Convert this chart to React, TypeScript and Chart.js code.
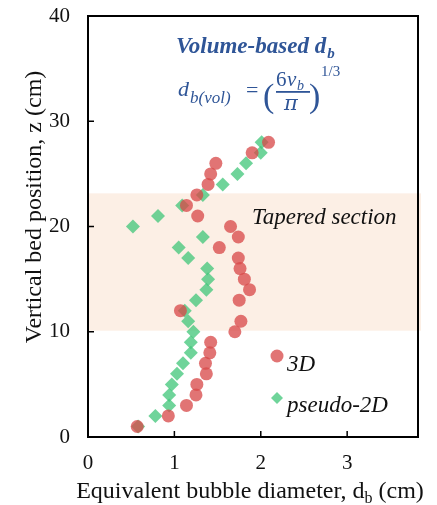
import React, { useEffect, useRef } from "react";
import { Chart, registerables } from "chart.js";

Chart.register(...registerables);

// ---- data ----
const zLevels3D = [1, 2, 3, 4, 5, 6, 7, 8, 9, 10, 11, 12, 13, 14, 15, 16, 17, 18, 19, 20, 21, 22, 23, 24, 25, 26, 27, 28];
const db3D = [0.57, 0.93, 1.14, 1.25, 1.26, 1.37, 1.36, 1.41, 1.42, 1.70, 1.77, 1.07, 1.75, 1.87, 1.81, 1.76, 1.74, 1.52, 1.74, 1.65, 1.27, 1.14, 1.26, 1.39, 1.42, 1.48, 1.90, 2.09];
const zLevels2D = [1, 2, 3, 4, 5, 6, 7, 8, 9, 10, 11, 12, 13, 14, 15, 16, 17, 18, 19, 20, 21, 22, 23, 24, 25, 26, 27, 28];
const db2D = [0.58, 0.78, 0.94, 0.94, 0.97, 1.03, 1.10, 1.19, 1.19, 1.22, 1.16, 1.12, 1.25, 1.37, 1.39, 1.38, 1.16, 1.05, 1.33, 0.52, 0.81, 1.09, 1.33, 1.56, 1.73, 1.83, 2.00, 2.01];
const xTickValues = [0, 1, 2, 3];
const yTickValues = [0, 10, 20, 30, 40];
const taperedRange = [10.1, 23.15];
const seriesNames = ["3D", "pseudo-2D"];
const xTitleMain = "Equivalent bubble diameter, d";
const xTitleSub = "b";
const xTitleEnd = " (cm)";
const yTitle = "Vertical bed position, z (cm)";
const bandLabel = "Tapered section";

const RED = "rgba(216, 72, 72, 0.76)";
const GREEN = "rgba(66, 198, 122, 0.76)";
const BLUE = "#2F5597";
const SERIF = "'Liberation Serif', 'Times New Roman', serif";

const overlayPlugin = {
  id: "overlay",
  beforeDatasetsDraw(chart: any) {
    const { ctx, chartArea, scales } = chart;
    const y = scales.y;
    const top = y.getPixelForValue(taperedRange[1]);
    const bot = y.getPixelForValue(taperedRange[0]);
    ctx.save();
    ctx.fillStyle = "#FCEFE5";
    ctx.fillRect(chartArea.left, top, chartArea.right - chartArea.left + 3, bot - top);
    ctx.restore();
  },
  afterDatasetsDraw(chart: any) {
    const { ctx, chartArea, scales } = chart;
    const { left, right, top, bottom } = chartArea;
    ctx.save();
    // border box
    ctx.strokeStyle = "#000";
    ctx.lineWidth = 2;
    ctx.strokeRect(left, top, right - left, bottom - top);
    // inward ticks
    ctx.lineWidth = 1.5;
    ctx.beginPath();
    xTickValues.forEach((v) => {
      if (v === 0) return;
      const px = scales.x.getPixelForValue(v);
      ctx.moveTo(px, bottom);
      ctx.lineTo(px, bottom - 6);
    });
    yTickValues.forEach((v) => {
      if (v === 0 || v === 40) return;
      const py = scales.y.getPixelForValue(v);
      ctx.moveTo(left, py);
      ctx.lineTo(left + 6, py);
    });
    ctx.stroke();

    // band label
    ctx.fillStyle = "#111";
    ctx.font = `italic 23px ${SERIF}`;
    ctx.textAlign = "left";
    ctx.textBaseline = "alphabetic";
    ctx.fillText(bandLabel, 252, 224);

    // x title
    ctx.font = `24px ${SERIF}`;
    const w1 = ctx.measureText(xTitleMain).width;
    ctx.font = `16px ${SERIF}`;
    const w2 = ctx.measureText(xTitleSub).width;
    ctx.font = `24px ${SERIF}`;
    const w3 = ctx.measureText(xTitleEnd).width;
    let sx = 250 - (w1 + w2 + w3) / 2;
    ctx.fillText(xTitleMain, sx, 498);
    sx += w1;
    ctx.font = `16px ${SERIF}`;
    ctx.fillText(xTitleSub, sx, 503);
    sx += w2;
    ctx.font = `24px ${SERIF}`;
    ctx.fillText(xTitleEnd, sx, 498);

    // y title
    ctx.save();
    ctx.translate(35, 207);
    ctx.rotate(-Math.PI / 2);
    ctx.textAlign = "center";
    ctx.textBaseline = "middle";
    ctx.font = `24px ${SERIF}`;
    ctx.fillText(yTitle, 0, 0);
    ctx.restore();

    // legend
    ctx.fillStyle = RED;
    ctx.beginPath();
    ctx.arc(277, 356, 6.5, 0, Math.PI * 2);
    ctx.fill();
    ctx.fillStyle = GREEN;
    ctx.beginPath();
    ctx.moveTo(277, 392);
    ctx.lineTo(283, 398);
    ctx.lineTo(277, 404);
    ctx.lineTo(271, 398);
    ctx.closePath();
    ctx.fill();
    ctx.fillStyle = "#111";
    ctx.font = `italic 23px ${SERIF}`;
    ctx.textAlign = "left";
    ctx.textBaseline = "alphabetic";
    ctx.fillText(seriesNames[0], 287, 371);
    ctx.fillText(seriesNames[1], 287, 412);

    // formula block
    ctx.fillStyle = BLUE;
    ctx.font = `bold italic 23px ${SERIF}`;
    ctx.fillText("Volume-based d", 176, 53);
    const wv = ctx.measureText("Volume-based d").width;
    ctx.font = `bold italic 15px ${SERIF}`;
    ctx.fillText("b", 176 + wv + 1, 58);

    const MF = "'DejaVu Serif', 'Liberation Serif', serif";
    ctx.font = `italic 22px ${SERIF}`;
    ctx.fillText("d", 178, 96);
    ctx.font = `italic 17px ${SERIF}`;
    ctx.fillText("b(vol)", 190, 103);
    ctx.font = `22px ${SERIF}`;
    ctx.fillText("=", 246, 97);
    ctx.font = `34px ${SERIF}`;
    ctx.fillText("(", 263, 107);
    ctx.fillText(")", 309, 107);
    ctx.font = `21px ${SERIF}`;
    ctx.fillText("6", 276, 86);
    ctx.font = `italic 21px ${SERIF}`;
    ctx.fillText("v", 287, 86);
    ctx.font = `italic 14px ${SERIF}`;
    ctx.fillText("b", 297, 90);
    ctx.fillRect(276, 91, 34, 1.8);
    ctx.font = `italic 21px ${MF}`;
    ctx.fillText("π", 284, 110);
    ctx.font = `15px ${SERIF}`;
    ctx.fillText("1/3", 321, 76);
    ctx.restore();
  },
};

export default function App() {
  const ref = useRef<HTMLCanvasElement>(null);
  useEffect(() => {
    document.body.style.margin = "0";
    const chart = new Chart(ref.current!, {
      type: "scatter",
      data: {
        datasets: [
          {
            label: seriesNames[0],
            data: db3D.map((v, i) => ({ x: v, y: zLevels3D[i] })),
            backgroundColor: RED,
            borderWidth: 0,
            pointStyle: "circle",
            pointRadius: 6.5,
          },
          {
            label: seriesNames[1],
            data: db2D.map((v, i) => ({ x: v, y: zLevels2D[i] })),
            backgroundColor: GREEN,
            borderWidth: 0,
            pointStyle: "rectRot",
            pointRadius: 7,
          },
        ],
      },
      options: {
        responsive: false,
        animation: false,
        layout: { padding: { top: 16, right: 19, left: 0, bottom: 0 } },
        plugins: { legend: { display: false }, tooltip: { enabled: false } },
        scales: {
          x: {
            type: "linear",
            min: 0,
            max: 3.82,
            afterBuildTicks: (s: any) => {
              s.ticks = xTickValues.map((v) => ({ value: v }));
            },
            afterFit: (s: any) => {
              s.height = 68;
              s.paddingLeft = 0;
              s.paddingRight = 0;
              s.paddingTop = 0;
              s.paddingBottom = 0;
            },
            grid: { display: false, drawTicks: false },
            border: { display: false },
            ticks: {
              color: "#111",
              font: { family: SERIF, size: 21 },
              padding: 14,
              maxRotation: 0,
            },
          },
          y: {
            type: "linear",
            min: 0,
            max: 40,
            afterBuildTicks: (s: any) => {
              s.ticks = yTickValues.map((v) => ({ value: v }));
            },
            afterFit: (s: any) => {
              s.width = 88;
              s.paddingTop = 0;
              s.paddingBottom = 0;
              s.paddingLeft = 0;
              s.paddingRight = 0;
            },
            grid: { display: false, drawTicks: false },
            border: { display: false },
            ticks: {
              color: "#111",
              font: { family: SERIF, size: 21 },
              padding: 18,
            },
          },
        },
      },
      plugins: [overlayPlugin],
    });
    return () => chart.destroy();
  }, []);
  return <canvas ref={ref} width={437} height={505} style={{ display: "block" }} />;
}
